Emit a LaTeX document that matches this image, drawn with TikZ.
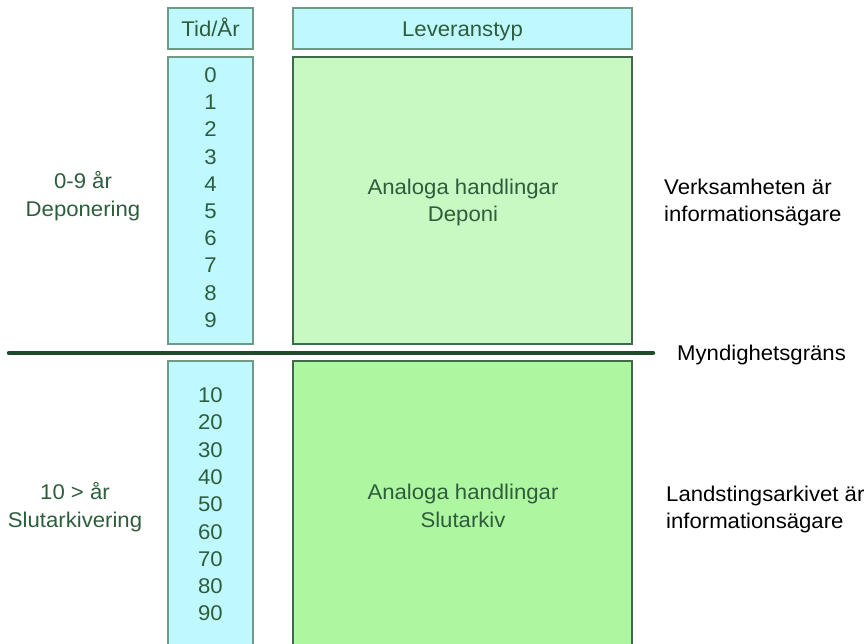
\documentclass[tikz,border=0pt]{standalone}
\usepackage{fontspec}
\setmainfont{Liberation Sans}[FakeStretch=1.04]
\begin{document}
\begin{tikzpicture}[x=1pt,y=-1pt,
  txt/.style={inner sep=0pt, anchor=base, text=textgreen, font=\fontsize{21.3}{27.5}\selectfont, align=center},
  side/.style={inner sep=0pt, anchor=base west, text=black, font=\fontsize{21.3}{27.5}\selectfont, align=left},
  cyanbox/.style={draw=cyanedge, fill=cyanfill, line width=1.2pt},
  greenbox/.style={draw=greenedge, line width=1.2pt}]
\definecolor{textgreen}{HTML}{2E5D3C}
\definecolor{cyanfill}{HTML}{BFF9FF}
\definecolor{cyanedge}{HTML}{6F9A84}
\definecolor{greenedge}{HTML}{3F6A4A}
\definecolor{greenup}{HTML}{C8F9C2}
\definecolor{greenlow}{HTML}{AEF7A0}
\definecolor{bordergreen}{HTML}{1F4B2B}
\useasboundingbox (0,0) rectangle (867,643);
\clip (0,0) rectangle (867,643);

% header boxes
\draw[cyanbox] (168,8) rectangle (253,49);
\node[txt] (tid) at (210.5,36.5) {Tid/År};
\draw[cyanbox] (293,8) rectangle (632,49);
\node[txt] (lev) at (462.5,36.5) {Leveranstyp};

% upper block: years 0-9, deposit (multi-line nodes sit on their last baseline)
\draw[cyanbox] (168,57) rectangle (253,344);
\draw[greenbox, fill=greenup] (293,57) rectangle (632,344);
\foreach \n [count=\i from 0] in {0,...,9}
  \node[txt] (u\i) at (210.5,{82.5+27.2*\i}) {\n};
\node[txt] (dep) at (463,221.5) {Analoga handlingar\\Deponi};
\node[txt] (lu) at (83,216) {0-9 år\\Deponering};
\node[side] (ru) at (664,221.5) {Verksamheten är\\informationsägare};

% boundary line
\coordinate (lineL) at (9,353);
\coordinate (lineR) at (653,353);
\draw[bordergreen, line width=4.5pt, line cap=round] (lineL) -- (lineR);
\node[side] (myn) at (677,360.5) {Myndighetsgräns};

% lower block: years 10-90, final archive
\draw[cyanbox] (168,361) rectangle (253,660);
\draw[greenbox, fill=greenlow] (293,361) rectangle (632,660);
\foreach \n [count=\i from 0] in {10,20,...,90}
  \node[txt] (l\i) at (210.5,{402.5+27.3*\i}) {\n};
\node[txt] (slut) at (463,527) {Analoga handlingar\\Slutarkiv};
\node[txt] (ll) at (75,527) {10 > år\\Slutarkivering};
\node[side] (rl) at (666,528.5) {Landstingsarkivet är\\informationsägare};
\end{tikzpicture}
\end{document}
